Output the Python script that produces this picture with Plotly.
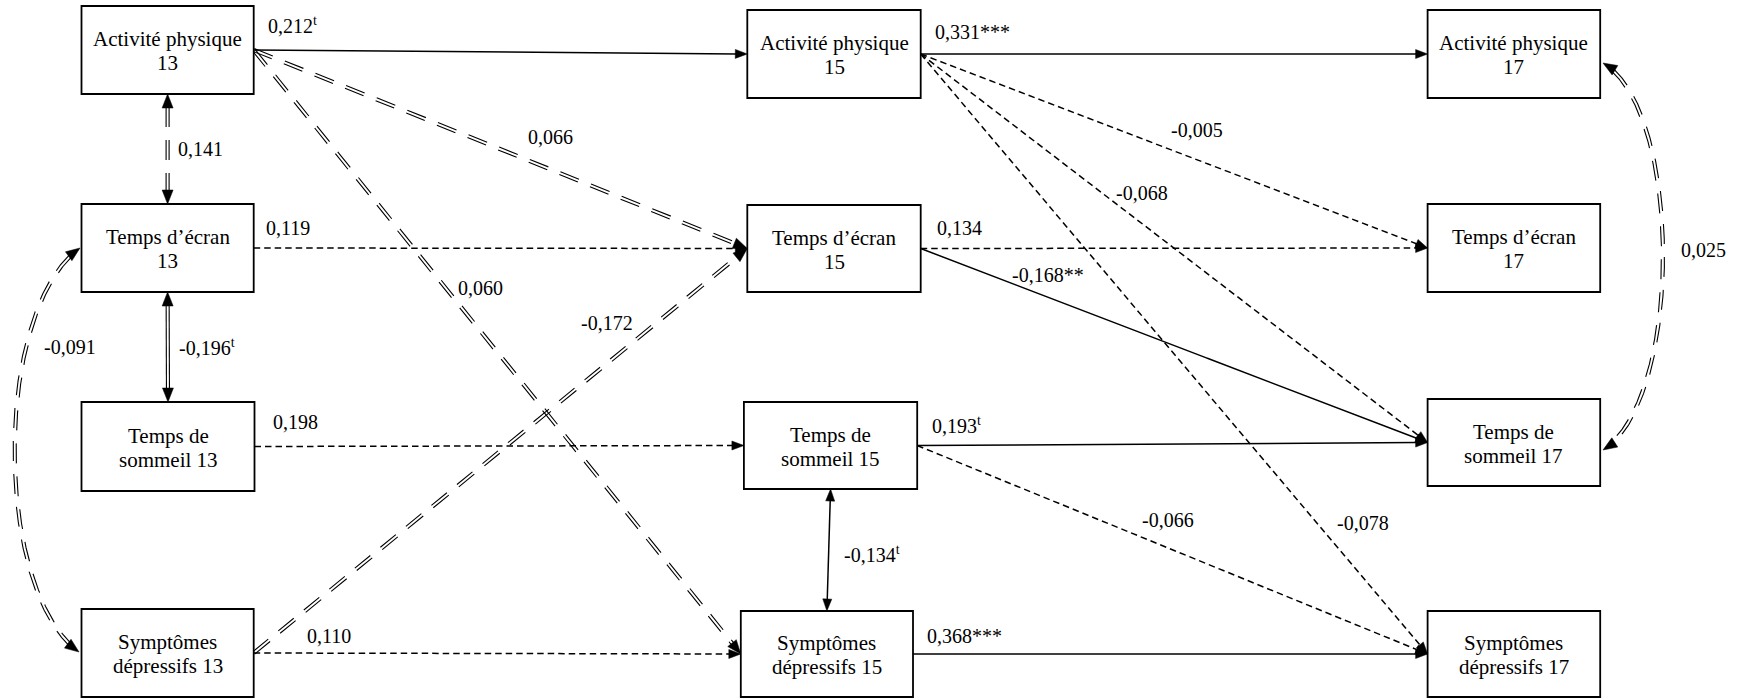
import numpy as np
import plotly.graph_objects as go

# ---------------- data ----------------
node_ids = ["AP13", "TE13", "TS13", "SD13",
            "AP15", "TE15", "TS15", "SD15",
            "AP17", "TE17", "TS17", "SD17"]
node_line1 = ["Activité physique", "Temps d’écran", "Temps de", "Symptômes",
              "Activité physique", "Temps d’écran", "Temps de", "Symptômes",
              "Activité physique", "Temps d’écran", "Temps de", "Symptômes"]
node_line2 = ["13", "13", "sommeil 13", "dépressifs 13",
              "15", "15", "sommeil 15", "dépressifs 15",
              "17", "17", "sommeil 17", "dépressifs 17"]

edge_from = ["AP13", "AP15", "AP13", "AP13", "TE13", "TS13", "SD13", "SD13",
             "TE15", "TE15", "AP15", "AP15", "AP15", "TS15", "TS15", "SD15",
             "TS15", "AP13", "TE13", "TE13", "AP17"]
edge_to = ["AP15", "AP17", "TE15", "SD15", "TE15", "TS15", "SD15", "TE15",
           "TE17", "TS17", "TE17", "TS17", "SD17", "TS17", "SD17", "SD17",
           "SD15", "TE13", "TS13", "SD13", "TS17"]
edge_coef = ["0,212<sup>t</sup>", "0,331***", "0,066", "0,060", "0,119", "0,198", "0,110", "-0,172",
             "0,134", "-0,168**", "-0,005", "-0,068", "-0,078", "0,193<sup>t</sup>", "-0,066", "0,368***",
             "-0,134<sup>t</sup>", "0,141", "-0,196<sup>t</sup>", "-0,091", "0,025"]
edge_kind = ["path"] * 16 + ["cov"] * 5

# ---------------- layout / styles ----------------
boxes = {
    "AP13": (81.5, 253.7, 6, 94), "TE13": (81.5, 253.7, 204, 292),
    "TS13": (81.5, 254.5, 402, 491), "SD13": (81.5, 253.7, 609, 697),
    "AP15": (747.3, 920.7, 10, 98), "TE15": (747.3, 920.7, 205, 292),
    "TS15": (743.9, 917.2, 402, 489), "SD15": (740.8, 913.0, 611, 697),
    "AP17": (1427.6, 1600.2, 10, 98), "TE17": (1427.6, 1600.2, 204, 292),
    "TS17": (1427.6, 1600.2, 399, 486), "SD17": (1427.6, 1600.2, 611, 697),
}
# line style per edge: solid / dash / ddash (double dashed) / dsolid (double solid)
edge_style = ["solid", "solid", "ddash", "ddash", "dash", "dash", "dash", "ddash",
              "dash", "solid", "dash", "dash", "dash", "solid", "dash", "solid",
              "solid", "ddash", "dsolid", "ddash", "ddash"]
label_pos = [(292, 25), (972, 32), (550, 137), (480, 288), (288, 228), (295, 422), (329, 636), (607, 323),
             (959, 228), (1048, 275), (1197, 130), (1142, 193), (1363, 523), (956, 425), (1168, 520), (964, 636),
             (872, 554), (200, 149), (207, 347), (70, 347), (1703, 250)]
# curved covariances: (start, ctrl1, ctrl2, end)
curves = {
    19: ((80, 248), (-7, 310), (-7, 590), (79, 652)),
    20: ((1603, 63), (1683, 110), (1683, 400), (1603, 450)),
}

FONT = "'Times New Roman', 'Liberation Serif', 'DejaVu Serif', serif"
fig = go.Figure()
shapes = []


def add_line(xs, ys, dash, width=1.3):
    fig.add_trace(go.Scatter(x=xs, y=ys, mode="lines", hoverinfo="skip",
                             line=dict(color="black", width=width, dash=dash)))


def offset(xs, ys, d):
    xs = np.asarray(xs, float)
    ys = np.asarray(ys, float)
    dx = np.gradient(xs)
    dy = np.gradient(ys)
    L = np.hypot(dx, dy)
    return xs - dy / L * d, ys + dx / L * d


def arrowhead(tip, direction, length, half):
    ux, uy = direction
    n = np.hypot(ux, uy)
    ux, uy = ux / n, uy / n
    bx, by = tip[0] - ux * length, tip[1] - uy * length
    p1 = (bx - uy * half, by + ux * half)
    p2 = (bx + uy * half, by - ux * half)
    shapes.append(dict(type="path", xref="x", yref="y",
                       path=f"M {tip[0]},{tip[1]} L {p1[0]},{p1[1]} L {p2[0]},{p2[1]} Z",
                       fillcolor="black", line=dict(color="black", width=0.5)))


def trim(xs, ys, start_len, end_len):
    xs = np.asarray(xs, float)
    ys = np.asarray(ys, float)
    seg = np.hypot(np.diff(xs), np.diff(ys))
    cum = np.concatenate([[0], np.cumsum(seg)])
    total = cum[-1]
    t = np.linspace(start_len, total - end_len, 300)
    return np.interp(t, cum, xs), np.interp(t, cum, ys)


def draw(xs, ys, style, head_start, head_end):
    double = style in ("ddash", "dsolid")
    L = 14 if double else 12
    half = 5.5 if double else 4.5
    sx, sy = trim(xs, ys, L - 1 if head_start else 0, L - 1 if head_end else 0)
    dash = {"solid": "solid", "dash": "6.5px,4px", "ddash": "20px,13px", "dsolid": "solid"}[style]
    if double:
        for d in (-1.5, 1.5):
            ox, oy = offset(sx, sy, d)
            add_line(ox, oy, dash, 1.1)
    else:
        add_line(sx, sy, dash, 1.5)
    if head_end:
        arrowhead((xs[-1], ys[-1]), (xs[-1] - xs[-2], ys[-1] - ys[-2]), L, half)
    if head_start:
        arrowhead((xs[0], ys[0]), (xs[0] - xs[1], ys[0] - ys[1]), L, half)


def mid(b):
    return (b[0] + b[1]) / 2, (b[2] + b[3]) / 2


for i, (a, b) in enumerate(zip(edge_from, edge_to)):
    ba, bb = boxes[a], boxes[b]
    if i in curves:
        p0, p1, p2, p3 = [np.array(p, float) for p in curves[i]]
        t = np.linspace(0, 1, 200)[:, None]
        pts = ((1 - t) ** 3) * p0 + 3 * ((1 - t) ** 2) * t * p1 + 3 * (1 - t) * t ** 2 * p2 + t ** 3 * p3
        draw(pts[:, 0], pts[:, 1], edge_style[i], True, True)
    elif edge_kind[i] == "cov":
        x0 = mid(ba)[0]
        x1 = mid(bb)[0]
        draw(np.array([x0, x1]), np.array([ba[3], bb[2]], float), edge_style[i], True, True)
    else:
        draw(np.array([ba[1], bb[0]], float), np.array([mid(ba)[1], mid(bb)[1]]), edge_style[i], False, True)

# boxes
for nid in node_ids:
    x0, x1, y0, y1 = boxes[nid]
    shapes.append(dict(type="rect", xref="x", yref="y", x0=x0, x1=x1, y0=y0, y1=y1,
                       line=dict(color="black", width=1.8), fillcolor="white", layer="above"))

annotations = []
for nid, l1, l2 in zip(node_ids, node_line1, node_line2):
    cx, cy = mid(boxes[nid])
    for txt, dy in ((l1, -11), (l2, 13)):
        annotations.append(dict(x=cx, y=cy + dy, xref="x", yref="y", text=txt, showarrow=False,
                                xanchor="center", yanchor="middle",
                                font=dict(family=FONT, size=21, color="black")))
for txt, (lx, ly) in zip(edge_coef, label_pos):
    annotations.append(dict(x=lx, y=ly, xref="x", yref="y", text=txt, showarrow=False,
                            xanchor="center", yanchor="middle",
                            font=dict(family=FONT, size=20, color="black")))

fig.update_layout(
    width=1740, height=698,
    margin=dict(l=0, r=0, t=0, b=0),
    paper_bgcolor="white", plot_bgcolor="white",
    showlegend=False,
    font=dict(family=FONT),
    xaxis=dict(range=[0, 1740], visible=False, fixedrange=True),
    yaxis=dict(range=[698, 0], visible=False, fixedrange=True),
    shapes=shapes,
    annotations=annotations,
)

fig.write_html("out.html",
               config={"displayModeBar": False, "staticPlot": True},
               post_script="document.body.style.margin='0px';document.body.style.overflow='hidden';")
